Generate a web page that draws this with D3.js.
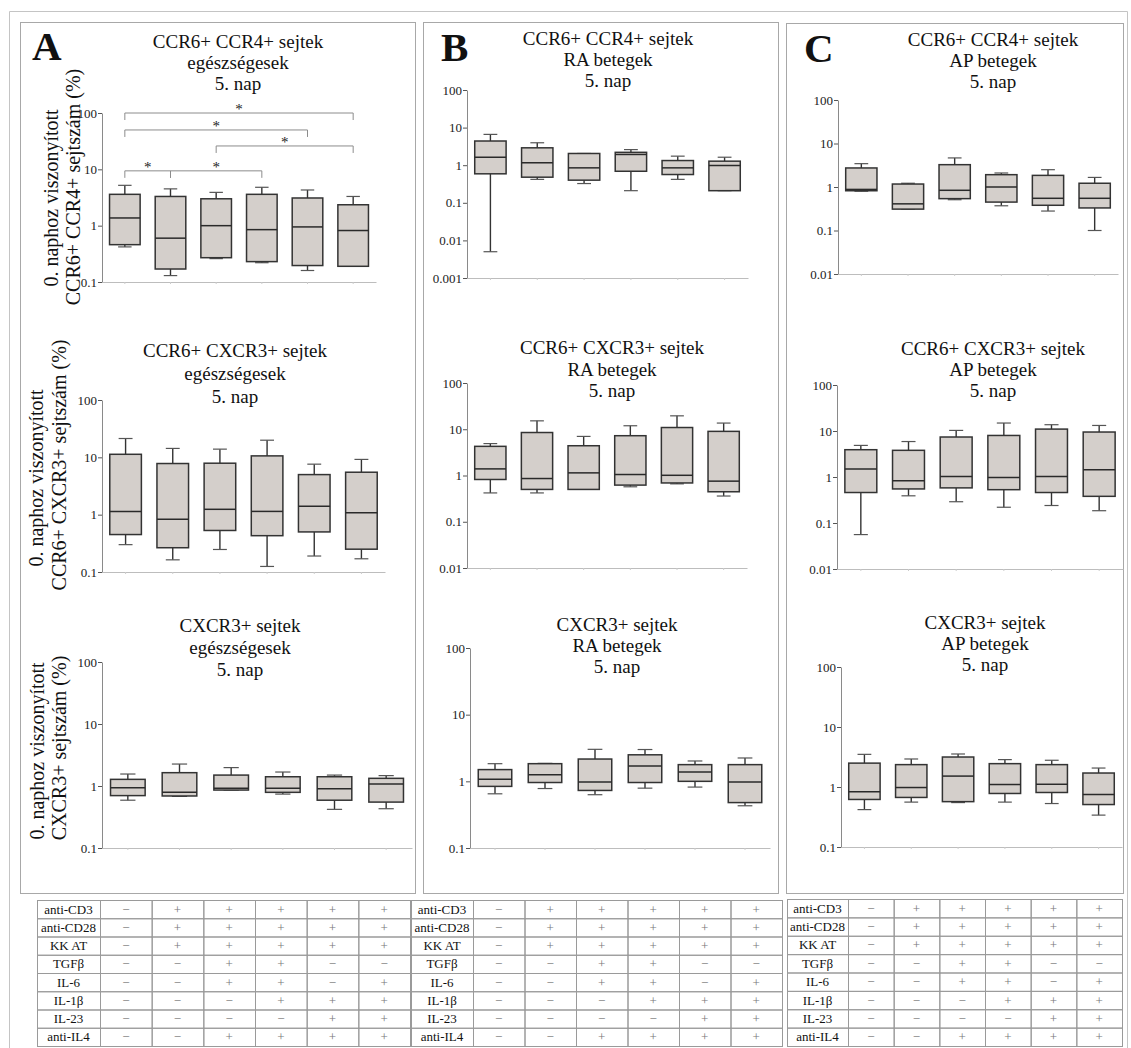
<!DOCTYPE html>
<html>
<head>
<meta charset="utf-8">
<script src="https://cdn.jsdelivr.net/npm/d3@7"></script>
<style>
  body { margin: 0; background: #fff; }
  svg { display: block; font-family: "Liberation Serif", "Times New Roman", serif; }
</style>
</head>
<body>
<div id="fig"></div>
<script>
// one column of the treatment table per box
const conditions = ["c1", "c2", "c3", "c4", "c5", "c6"];

// box stats per condition: [min, q1, median, q3, max]
const healthyCcr6Ccr4 = [
  [0.42, 0.46, 1.37, 3.6, 5.2],
  [0.13, 0.17, 0.6, 3.3, 4.5],
  [0.26, 0.27, 1.0, 3.0, 3.9],
  [0.22, 0.23, 0.85, 3.6, 4.8],
  [0.16, 0.196, 0.95, 3.1, 4.3],
  [0.19, 0.19, 0.82, 2.35, 3.3]
];
const healthyCcr6Cxcr3 = [
  [0.3, 0.45, 1.14, 11.3, 21.3],
  [0.163, 0.265, 0.83, 7.8, 14.3],
  [0.247, 0.53, 1.24, 7.9, 13.9],
  [0.125, 0.43, 1.14, 10.6, 19.9],
  [0.19, 0.5, 1.4, 5.0, 7.6],
  [0.17, 0.25, 1.08, 5.5, 9.2]
];
const healthyCxcr3 = [
  [0.59, 0.7, 0.94, 1.28, 1.56],
  [0.68, 0.69, 0.79, 1.64, 2.26],
  [0.86, 0.86, 0.92, 1.5, 1.98],
  [0.74, 0.79, 0.92, 1.41, 1.68],
  [0.42, 0.59, 0.9, 1.41, 1.5],
  [0.43, 0.55, 1.08, 1.33, 1.47]
];
const raCcr6Ccr4 = [
  [0.005, 0.59, 1.63, 4.4, 6.6],
  [0.42, 0.48, 1.16, 2.9, 3.95],
  [0.325, 0.4, 0.85, 2.05, 2.05],
  [0.21, 0.69, 1.93, 2.2, 2.6],
  [0.42, 0.565, 0.85, 1.33, 1.74],
  [0.21, 0.21, 0.98, 1.28, 1.63]
];
const raCcr6Cxcr3 = [
  [0.42, 0.82, 1.39, 4.27, 4.9],
  [0.42, 0.5, 0.86, 8.5, 15.2],
  [0.5, 0.5, 1.14, 4.4, 7.0],
  [0.57, 0.62, 1.05, 7.25, 11.9],
  [0.66, 0.69, 1.01, 10.9, 19.5],
  [0.36, 0.445, 0.755, 9.0, 13.6]
];
const raCxcr3 = [
  [0.65, 0.84, 1.07, 1.5, 1.84],
  [0.78, 0.96, 1.26, 1.84, 1.86],
  [0.63, 0.73, 0.98, 2.16, 3.02],
  [0.79, 0.96, 1.7, 2.5, 3.0],
  [0.82, 1.0, 1.38, 1.78, 2.02],
  [0.43, 0.48, 0.98, 1.78, 2.24]
];
const apCcr6Ccr4 = [
  [0.8, 0.82, 0.88, 2.74, 3.44],
  [0.31, 0.31, 0.41, 1.17, 1.22],
  [0.51, 0.54, 0.84, 3.26, 4.66],
  [0.37, 0.45, 1.0, 1.92, 2.1],
  [0.28, 0.38, 0.55, 1.85, 2.5],
  [0.1, 0.33, 0.55, 1.22, 1.66]
];
const apCcr6Cxcr3 = [
  [0.056, 0.46, 1.49, 3.92, 4.86],
  [0.39, 0.55, 0.83, 3.8, 5.9],
  [0.29, 0.58, 1.03, 7.4, 10.3],
  [0.22, 0.53, 0.98, 8.0, 14.9],
  [0.24, 0.46, 1.03, 11.0, 13.7],
  [0.185, 0.38, 1.44, 9.5, 13.2]
];
const apCxcr3 = [
  [0.42, 0.62, 0.83, 2.5, 3.5],
  [0.56, 0.67, 0.98, 2.36, 2.93],
  [0.55, 0.57, 1.52, 3.16, 3.55],
  [0.56, 0.78, 1.1, 2.45, 2.86],
  [0.53, 0.81, 1.11, 2.36, 2.79],
  [0.34, 0.51, 0.75, 1.71, 2.07]
];

// y tick values
const ticksTo01 = [0.1, 1, 10, 100];
const ticksTo001 = [0.01, 0.1, 1, 10, 100];
const ticksTo0001 = [0.001, 0.01, 0.1, 1, 10, 100];

// significance brackets (healthy CCR6+CCR4+): box index from, to, bracket height (data units)
const sigFrom = [0, 0, 2, 0, 1];
const sigTo = [5, 4, 5, 1, 3];
const sigLevel = [100, 50, 26, 9.4, 9.4];

// treatment table
const tableRows = ["anti-CD3", "anti-CD28", "KK AT", "TGFβ", "IL-6", "IL-1β", "IL-23", "anti-IL4"];
const tableSigns = [
  ["−", "+", "+", "+", "+", "+"],
  ["−", "+", "+", "+", "+", "+"],
  ["−", "+", "+", "+", "+", "+"],
  ["−", "−", "+", "+", "−", "−"],
  ["−", "−", "+", "+", "−", "+"],
  ["−", "−", "−", "+", "+", "+"],
  ["−", "−", "−", "−", "+", "+"],
  ["−", "−", "+", "+", "+", "+"]
];

const W = 1131, H = 1048;
const svg = d3.select("#fig").append("svg").attr("width", W).attr("height", H);

// outer frame + panel frames
svg.append("path")
  .attr("d", "M9.5,1048 V11.5 H1127.5 V1048")
  .attr("fill", "none").attr("stroke", "#c4c4c4");
const panels = [
  { x: 20.5, y: 22.5, w: 395, h: 871, letter: "A", lx: 32, ly: 60 },
  { x: 423.5, y: 22.5, w: 355, h: 871, letter: "B", lx: 441, ly: 61 },
  { x: 786.5, y: 23.5, w: 337, h: 870, letter: "C", lx: 804, ly: 62 }
];
panels.forEach(p => {
  svg.append("rect").attr("x", p.x).attr("y", p.y).attr("width", p.w).attr("height", p.h)
    .attr("fill", "none").attr("stroke", "#a8a8a8");
  svg.append("text").attr("x", p.lx).attr("y", p.ly).text(p.letter)
    .style("font-size", "41px").style("font-weight", "bold").style("fill", "#111");
});

const charts = [
  { stats: healthyCcr6Ccr4, min: 0.1, ticks: ticksTo01, x0: 102, x1: 376, yTop: 113, yBot: 282,
    title: ["CCR6+ CCR4+ sejtek", "egészségesek", "5. nap"], cx: 238, tb: [48, 69, 90],
    ylab: ["0. naphoz viszonyított", "CCR6+ CCR4+ sejtszám (%)"], ylx: [58, 80], lcy: [198, 187], sig: true },
  { stats: healthyCcr6Cxcr3, min: 0.1, ticks: ticksTo01, x0: 102, x1: 385, yTop: 400, yBot: 572,
    title: ["CCR6+ CXCR3+ sejtek", "egészségesek", "5. nap"], cx: 235, tb: [357, 380, 403],
    ylab: ["0. naphoz viszonyított", "CCR6+ CXCR3+ sejtszám (%)"], ylx: [43, 66], lcy: [478, 465] },
  { stats: healthyCxcr3, min: 0.1, ticks: ticksTo01, x0: 102, x1: 412, yTop: 662, yBot: 848,
    title: ["CXCR3+ sejtek", "egészségesek", "5. nap"], cx: 240, tb: [632, 654, 676],
    ylab: ["0. naphoz viszonyított", "CXCR3+ sejtszám (%)"], ylx: [44, 66], lcy: [751, 748] },
  { stats: raCcr6Ccr4, min: 0.001, ticks: ticksTo0001, x0: 467, x1: 748, yTop: 90, yBot: 278,
    title: ["CCR6+ CCR4+ sejtek", "RA betegek", "5. nap"], cx: 608, tb: [45, 66, 87] },
  { stats: raCcr6Cxcr3, min: 0.01, ticks: ticksTo001, x0: 467, x1: 747, yTop: 383, yBot: 568,
    title: ["CCR6+ CXCR3+ sejtek", "RA betegek", "5. nap"], cx: 612, tb: [354, 376, 397] },
  { stats: raCxcr3, min: 0.1, ticks: ticksTo01, x0: 470, x1: 770, yTop: 648, yBot: 848,
    title: ["CXCR3+ sejtek", "RA betegek", "5. nap"], cx: 617, tb: [631, 652, 673] },
  { stats: apCcr6Ccr4, min: 0.01, ticks: ticksTo001, x0: 838, x1: 1118, yTop: 100, yBot: 274,
    title: ["CCR6+ CCR4+ sejtek", "AP betegek", "5. nap"], cx: 993, tb: [46, 67, 88] },
  { stats: apCcr6Cxcr3, min: 0.01, ticks: ticksTo001, x0: 837, x1: 1123, yTop: 385, yBot: 569,
    title: ["CCR6+ CXCR3+ sejtek", "AP betegek", "5. nap"], cx: 993, tb: [355, 376, 397] },
  { stats: apCxcr3, min: 0.1, ticks: ticksTo01, x0: 841, x1: 1122, yTop: 667, yBot: 847,
    title: ["CXCR3+ sejtek", "AP betegek", "5. nap"], cx: 985, tb: [629, 650, 671] }
];

function drawChart(cfg) {
  const g = svg.append("g");
  const y = d3.scaleLog().domain([cfg.min, 100]).range([cfg.yBot, cfg.yTop]);
  const x = d3.scaleBand().domain(conditions).range([cfg.x0, cfg.x1])
    .paddingInner(0.33).paddingOuter(0.165);
  const bw = x.bandwidth();

  // title
  cfg.title.forEach((t, i) => {
    g.append("text").attr("x", cfg.cx).attr("y", cfg.tb[i]).attr("text-anchor", "middle")
      .text(t).style("font-size", "19px").style("fill", "#111");
  });

  // x axis
  const xa = g.append("g").attr("transform", `translate(0,${cfg.yBot})`)
    .call(d3.axisBottom(x).tickSize(2).tickSizeOuter(0).tickFormat(""));
  xa.select(".domain").attr("stroke", "#bdbdbd");
  xa.selectAll(".tick line").attr("stroke", "#ccc");

  // y axis
  const ya = g.append("g").attr("transform", `translate(${cfg.x0},0)`)
    .call(d3.axisLeft(y).tickValues(cfg.ticks).tickFormat(d => String(d)).tickSize(4).tickSizeOuter(0));
  ya.select(".domain").attr("stroke", "#8a8a8a");
  ya.selectAll(".tick line").attr("stroke", "#555");
  ya.selectAll(".tick text").attr("x", -5)
    .style("font-family", "'Liberation Serif', 'Times New Roman', serif")
    .style("font-size", "13px").style("fill", "#222");

  const boxes = g.selectAll(".box")
    .data(cfg.stats.map((s, i) => ({ c: conditions[i], s })))
    .join("g").attr("class", "box");

  const mid = d => x(d.c) + bw / 2;
  // whiskers
  boxes.append("line").attr("x1", mid).attr("x2", mid)
    .attr("y1", d => y(d.s[3])).attr("y2", d => y(d.s[4]))
    .attr("stroke", "#333").attr("stroke-width", 1.4);
  boxes.append("line").attr("x1", mid).attr("x2", mid)
    .attr("y1", d => y(d.s[1])).attr("y2", d => y(d.s[0]))
    .attr("stroke", "#333").attr("stroke-width", 1.4);
  // caps
  [0, 4].forEach(k => {
    boxes.append("line")
      .attr("x1", d => mid(d) - bw * 0.22).attr("x2", d => mid(d) + bw * 0.22)
      .attr("y1", d => y(d.s[k])).attr("y2", d => y(d.s[k]))
      .attr("stroke", "#555").attr("stroke-width", 1.2);
  });
  // box
  boxes.append("rect")
    .attr("x", d => x(d.c)).attr("width", bw)
    .attr("y", d => y(d.s[3])).attr("height", d => y(d.s[1]) - y(d.s[3]))
    .attr("fill", "#d4cfcb").attr("stroke", "#333").attr("stroke-width", 1.5);
  // median
  boxes.append("line")
    .attr("x1", d => x(d.c)).attr("x2", d => x(d.c) + bw)
    .attr("y1", d => y(d.s[2])).attr("y2", d => y(d.s[2]))
    .attr("stroke", "#2a2a2a").attr("stroke-width", 1.5);

  // y label (only in panel A)
  if (cfg.ylab) {
    cfg.ylab.forEach((t, i) => {
      g.append("text")
        .attr("transform", `translate(${cfg.ylx[i]},${cfg.lcy[i]}) rotate(-90)`)
        .attr("text-anchor", "middle").text(t)
        .style("font-size", "20px").style("fill", "#111");
    });
  }

  // significance brackets
  if (cfg.sig) {
    const drop = 7;
    sigFrom.forEach((f, i) => {
      const xa0 = x(conditions[f]) + bw / 2;
      const xb0 = x(conditions[sigTo[i]]) + bw / 2;
      const yl = y(sigLevel[i]);
      g.append("path")
        .attr("d", `M${xa0},${yl + drop} V${yl} H${xb0} V${yl + drop}`)
        .attr("fill", "none").attr("stroke", "#8c8c8c").attr("stroke-width", 1);
      g.append("text").attr("x", (xa0 + xb0) / 2).attr("y", yl + 1)
        .attr("text-anchor", "middle").text("*")
        .style("font-size", "15px").style("fill", "#222");
    });
  }
}

charts.forEach(drawChart);

// treatment tables
const tables = [
  { lx0: 37, lx1: 100, x1: 410, y0: 900, y1: 1046 },
  { lx0: 411, lx1: 473, x1: 782, y0: 900, y1: 1046 },
  { lx0: 787, lx1: 848, x1: 1122, y0: 899, y1: 1046 }
];

function drawTable(t) {
  const g = svg.append("g");
  const col = d3.scaleBand().domain(conditions).range([t.lx1, t.x1]);
  const row = d3.scaleBand().domain(tableRows).range([t.y0, t.y1]);
  const rh = row.bandwidth();

  tableRows.forEach((r, ri) => {
    g.append("rect").attr("x", t.lx0 + 0.5).attr("y", row(r) + 0.5)
      .attr("width", t.lx1 - t.lx0).attr("height", rh)
      .attr("fill", "none").attr("stroke", "#9a9a9a");
    g.append("text").attr("x", (t.lx0 + t.lx1) / 2).attr("y", row(r) + rh / 2 + 4.5)
      .attr("text-anchor", "middle").text(r)
      .style("font-size", "13px").style("fill", "#111");
    conditions.forEach((c, ci) => {
      g.append("rect").attr("x", col(c) + 0.5).attr("y", row(r) + 0.5)
        .attr("width", col.bandwidth()).attr("height", rh)
        .attr("fill", "none").attr("stroke", "#9a9a9a");
      g.append("text").attr("x", col(c) + col.bandwidth() / 2).attr("y", row(r) + rh / 2 + 4.5)
        .attr("text-anchor", "middle").text(tableSigns[ri][ci])
        .style("font-size", "13px").style("fill", "#777");
    });
  });
}

tables.forEach(drawTable);
</script>
</body>
</html>
